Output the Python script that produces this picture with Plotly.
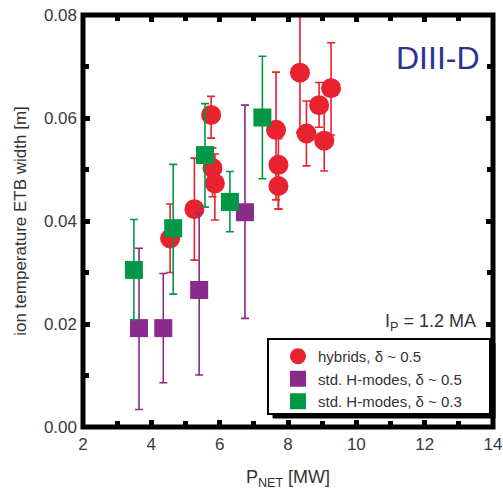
import plotly.graph_objects as go

# ---- data ----
hyb_x = [4.55, 5.26, 5.75, 5.79, 5.86, 7.65, 7.72, 7.72, 8.35, 8.54, 8.91, 9.06, 9.26]
hyb_y = [0.0366, 0.0423, 0.0606, 0.0503, 0.0473, 0.0577, 0.0509, 0.0468, 0.0688, 0.0570, 0.0625, 0.0556, 0.0658]
hyb_hi = [0.0433, 0.0522, 0.0642, 0.0542, 0.0530, 0.0689, 0.0560, 0.0500, 0.0800, 0.0633, 0.0669, 0.0616, 0.0746]
hyb_lo = [0.0300, 0.0324, 0.0561, 0.0447, 0.0402, 0.0441, 0.0423, 0.0423, 0.0572, 0.0507, 0.0582, 0.0497, 0.0567]

h05_x = [3.64, 4.35, 5.40, 6.74]
h05_y = [0.0192, 0.0192, 0.0266, 0.0417]
h05_hi = [0.0347, 0.0298, 0.0415, 0.0625]
h05_lo = [0.0034, 0.0086, 0.0101, 0.0211]

h03_x = [3.49, 4.64, 5.57, 6.30, 7.25]
h03_y = [0.0305, 0.0386, 0.0528, 0.0437, 0.0601]
h03_hi = [0.0403, 0.0510, 0.0628, 0.0496, 0.0720]
h03_lo = [0.0208, 0.0258, 0.0427, 0.0379, 0.0482]

names = ["hybrids, δ ~ 0.5", "std. H-modes, δ ~ 0.5", "std. H-modes, δ ~ 0.3"]
colors = ["#E8222E", "#8A2A8C", "#009846"]
symbols = ["circle", "square", "square"]
sizes = [20, 18, 18]

x_ticks = [2, 4, 6, 8, 10, 12, 14]
y_ticks = [0.00, 0.02, 0.04, 0.06, 0.08]

fig = go.Figure()
series = [(hyb_x, hyb_y, hyb_hi, hyb_lo), (h05_x, h05_y, h05_hi, h05_lo), (h03_x, h03_y, h03_hi, h03_lo)]
for (xs, ys, hi, lo), nm, c, s, sz in zip(series, names, colors, symbols, sizes):
    fig.add_trace(go.Scatter(
        x=xs, y=ys, mode="markers", name=nm,
        marker=dict(color=c, symbol=s, size=sz, line=dict(width=0)),
        error_y=dict(type="data", symmetric=False,
                     array=[h - y for h, y in zip(hi, ys)],
                     arrayminus=[y - l for y, l in zip(ys, lo)],
                     color=c, thickness=1.6, width=4),
    ))

PL, PR, PT, PB = 83, 493, 15, 427
W, H = PR - PL, PB - PT
def px(x):
    return (x - PL) / W
def py(y):
    return (PB - y) / H

axis_common = dict(showline=False, mirror="allticks",
                   ticks="inside", ticklen=7, tickwidth=5, tickcolor="black",
                   showgrid=False, zeroline=False,
                   tickfont=dict(family="Arial, Liberation Sans", size=17, color="#3a3a3a"))

fig.update_layout(
    width=503, height=492,
    margin=dict(l=PL, r=503 - PR, t=PT, b=492 - PB, autoexpand=False),
    paper_bgcolor="white", plot_bgcolor="white",
    font=dict(family="Arial, Liberation Sans", color="#333333"),
    xaxis=dict(range=[2, 14], tickvals=x_ticks, ticktext=[str(v) for v in x_ticks],
               minor=dict(dtick=1, ticks="inside", ticklen=6, tickwidth=5, tickcolor="black"),
               ticklabelstandoff=5,
               title=dict(text="P<sub>NET</sub> [MW]", font=dict(size=18, color="#333333"), standoff=17),
               **axis_common),
    yaxis=dict(range=[0, 0.08], tickvals=y_ticks, ticktext=["%.2f" % v for v in y_ticks],
               minor=dict(dtick=0.01, ticks="inside", ticklen=6, tickwidth=5, tickcolor="black"),
               ticklabelstandoff=5,
               title=dict(text="ion temperature ETB width [m]", font=dict(size=17, color="#333333"), standoff=12),
               **axis_common),
    showlegend=True,
    legend=dict(x=px(278), y=py(340), xanchor="left", yanchor="top",
                bgcolor="rgba(0,0,0,0)", borderwidth=0,
                font=dict(family="Arial, Liberation Sans", size=15, color="#333333"),
                itemsizing="trace"),
)

# plot frame (thick)
fig.add_shape(type="rect", xref="paper", yref="paper", layer="above",
              x0=0, x1=1, y0=0, y1=1, line=dict(color="black", width=5))
# legend box shadow and frame
fig.add_shape(type="rect", xref="paper", yref="paper", layer="above",
              x0=px(273), x1=px(495), y0=py(418), y1=py(343),
              fillcolor="black", line=dict(color="black", width=1))
fig.add_shape(type="rect", xref="paper", yref="paper", layer="above",
              x0=px(268), x1=px(490), y0=py(414), y1=py(339),
              fillcolor="white", line=dict(color="black", width=2))

fig.add_annotation(text="DIII-D", xref="paper", yref="paper", x=px(482), y=py(58),
                   xanchor="right", yanchor="middle", showarrow=False,
                   font=dict(family="Arial, Liberation Sans", size=32, color="#2E3192"))
fig.add_annotation(text="I<sub>P</sub> = 1.2 MA", xref="paper", yref="paper", x=px(478), y=py(322),
                   xanchor="right", yanchor="middle", showarrow=False,
                   font=dict(family="Arial, Liberation Sans", size=18, color="#333333"))

fig.write_html("out.html")
